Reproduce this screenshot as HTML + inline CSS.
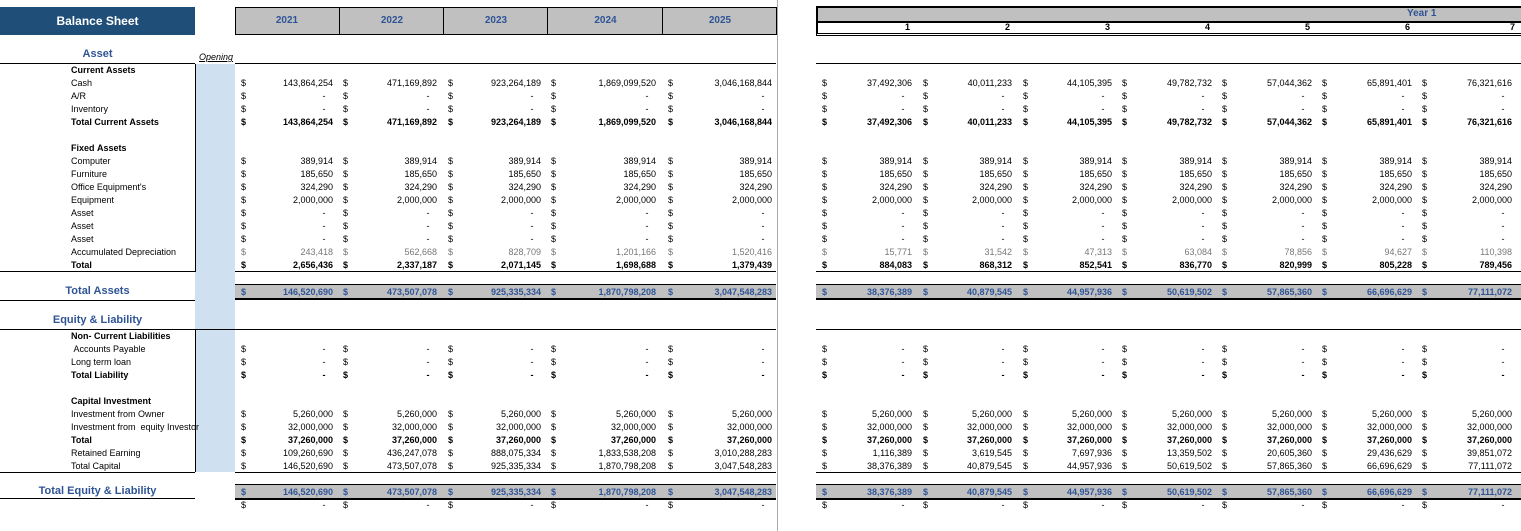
<!DOCTYPE html>
<html><head><meta charset="utf-8"><style>
body{margin:0;width:1521px;height:531px;background:#fff;position:relative;overflow:hidden;font-family:"Liberation Sans",sans-serif;font-size:9px;color:#000}
div{position:absolute;white-space:nowrap}
.t{line-height:13px;height:13px}
.r{text-align:right}
.b{font-weight:bold}
.blue{color:#2f5496}
.hl{height:1px;background:#000}
</style></head><body>
<div style="left:0;top:7px;width:195px;height:28px;background:#1f4e79;color:#fff;font-size:12px;font-weight:bold;line-height:28px;text-align:center">Balance Sheet</div>
<div style="left:235px;top:7px;width:540px;height:26px;background:#c0c0c0;border:1px solid #000"></div>
<div style="left:777px;top:0;width:1px;height:531px;background:#aaa"></div>
<div style="left:195px;top:64px;width:40px;height:408px;background:#cfe0f1"></div>
<div style="left:195px;top:64px;width:1px;height:208px;background:#000"></div>
<div style="left:195px;top:330px;width:1px;height:142px;background:#000"></div>
<div style="left:816px;top:6px;width:705px;height:13px;background:#c0c0c0;border-top:2px solid #000;border-bottom:2px solid #000;border-left:2px solid #000"></div>
<div style="left:816px;top:21px;width:705px;height:12px;border-bottom:3px double #000;border-left:2px solid #000"></div>
<div class="t blue b" style="left:1407px;top:7px;font-size:10px">Year 1</div>
<div id="c"></div>
<script>
var c=document.getElementById('c'),h='';
function d(s){h+=s}
var yrs=['2021','2022','2023','2024','2025'],yx=[235,339,443,547,662,776];
for(var i=0;i<5;i++){d('<div class="blue b" style="left:'+yx[i]+'px;top:8px;width:'+(yx[i+1]-yx[i])+'px;height:26px;line-height:26px;text-align:center;font-size:10px;'+(i?'border-left:1px solid #000':'')+'">'+yrs[i]+'</div>')}
for(var i=0;i<7;i++){d('<div class="t b r" style="left:'+(820+i*100)+'px;top:21px;width:'+(i==6?95:90)+'px">'+(i+1)+'</div>')}
function L(x,y,w,hh){d('<div class="hl" style="left:'+x+'px;top:'+y+'px;width:'+w+'px;height:'+(hh||1)+'px"></div>')}
L(0,63,195);L(235,63,541);L(816,63,705);
L(0,271,195);L(235,271,541);L(816,271,705);
L(0,300,195);
L(0,329,776);L(816,329,705);
L(0,472,195);L(235,472,541);L(816,472,705);
L(0,498,195);
d('<div class="blue b" style="left:0;top:48px;width:195px;text-align:center;font-size:11px">Asset</div>');
d('<div style="left:199px;top:52px;font-style:italic;text-decoration:underline">Opening</div>');
d('<div class="blue b" style="left:0;top:285px;width:195px;text-align:center;font-size:11px">Total Assets</div>');
d('<div class="blue b" style="left:0;top:314px;width:195px;text-align:center;font-size:11px">Equity &amp; Liability</div>');
d('<div class="blue b" style="left:0;top:485px;width:195px;text-align:center;font-size:11px">Total Equity &amp; Liability</div>');
[284,484].forEach(function(y){
d('<div style="left:235px;top:'+y+'px;width:541px;height:13px;background:#c0c0c0;border-top:1px solid #000;border-bottom:2px solid #000"></div>');
d('<div style="left:816px;top:'+y+'px;width:705px;height:13px;background:#c0c0c0;border-top:1px solid #000;border-bottom:2px solid #000"></div>');});
var TA=['146,520,690','473,507,078','925,335,334','1,870,798,208','3,047,548,283'],TAr=['38,376,389','40,879,545','44,957,936','50,619,502','57,865,360','66,696,629','77,111,072'];
var CA=['143,864,254','471,169,892','923,264,189','1,869,099,520','3,046,168,844'],CAr=['37,492,306','40,011,233','44,105,395','49,782,732','57,044,362','65,891,401','76,321,616'];
var rows=[
[70,'Current Assets','b'],
[83,'Cash','',CA,CAr],
[96,'A/R','',0,0],[109,'Inventory','',0,0],
[122,'Total Current Assets','b',CA,CAr],
[148,'Fixed Assets','b'],
[161,'Computer','','389,914','389,914'],[174,'Furniture','','185,650','185,650'],[187,"Office Equipment's",'','324,290','324,290'],[200,'Equipment','','2,000,000','2,000,000'],
[213,'Asset','',0,0],[226,'Asset','',0,0],[239,'Asset','',0,0],
[252,'Accumulated Depreciation','g',['243,418','562,668','828,709','1,201,166','1,520,416'],['15,771','31,542','47,313','63,084','78,856','94,627','110,398']],
[265,'Total','b',['2,656,436','2,337,187','2,071,145','1,698,688','1,379,439'],['884,083','868,312','852,541','836,770','820,999','805,228','789,456']],
[292,'','bl',TA,TAr],
[336,'Non- Current Liabilities','b'],
[349,' Accounts Payable','',0,0],[362,'Long term loan','',0,0],[375,'Total Liability','b',0,0],
[401,'Capital Investment','b'],
[414,'Investment from Owner','','5,260,000','5,260,000'],[427,'Investment from  equity Investor','','32,000,000','32,000,000'],
[440,'Total','b','37,260,000','37,260,000'],
[453,'Retained Earning','',['109,260,690','436,247,078','888,075,334','1,833,538,208','3,010,288,283'],['1,116,389','3,619,545','7,697,936','13,359,502','20,605,360','29,436,629','39,851,072']],
[466,'Total Capital','',TA,TAr],
[492,'','bl',TA,TAr],
[505,'','',0,0]];
var ld=[241,343,448,551,668],lr=[333,437,541,656,772],rd=[822,923,1023,1122,1222,1322,1422],rr=[912,1012,1112,1212,1312,1412,1512];
rows.forEach(function(r){var y=r[0],cl=r[2];
if(r[1])d('<div class="t '+(cl=='b'?'b':'')+'" style="left:71px;top:'+(y-6)+'px">'+r[1].replace(/ /g,'&nbsp;')+'</div>');
if(r.length<4)return;
var st=cl=='g'?'color:#777;':'';var c2=(cl=='b'?'b':cl=='bl'?'b blue':'');
function put(dx,rx,v){for(var i=0;i<dx.length;i++){var val=v===0?'-':(typeof v=='string'?v:v[i]);
d('<div class="t '+c2+'" style="'+st+'left:'+dx[i]+'px;top:'+(y-6)+'px">$</div>');
d('<div class="t r '+c2+'" style="'+st+'left:'+(rx[i]-90)+'px;width:90px;top:'+(y-6)+'px">'+val+(val=='-'?'&nbsp;&nbsp;&nbsp;':'')+'</div>');}}
put(ld,lr,r[3]);put(rd,rr,r[4]);});
c.innerHTML=h;
</script>
</body></html>
